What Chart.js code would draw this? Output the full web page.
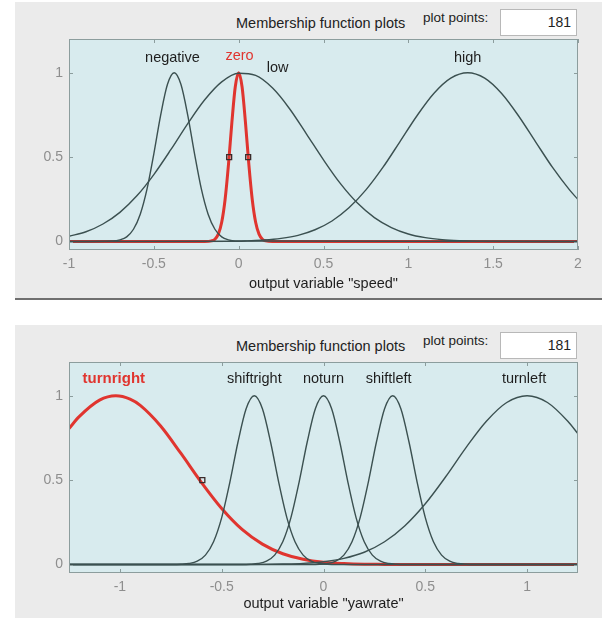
<!DOCTYPE html>
<html>
<head>
<meta charset="utf-8">
<script src="https://cdn.jsdelivr.net/npm/chart.js@4.4.1/dist/chart.umd.min.js"></script>
<style>
  body { margin: 0; background: #fff; width: 613px; height: 618px; overflow: hidden;
         font-family: "Liberation Sans", Arial, sans-serif; }
  .panel { position: absolute; left: 15px; width: 587px; background: #ebebeb; }
  #p1 { top: 2px; height: 296px; border-bottom: 2px solid #6f6f6f; }
  #p2 { top: 325px; height: 293px; }
  .panel canvas { position: absolute; left: 0; top: 0; }
  .title { position: absolute; left: 221px; top: 12px; font-size: 14.5px; line-height: 18px; color: #222; }
  .pp { position: absolute; left: 408px; top: 7px; font-size: 13.5px; line-height: 18px; color: #222; }
  .box { position: absolute; left: 485px; top: 7px; width: 77px; height: 27px; box-sizing: border-box;
         background: #fff; border: 1px solid #b8b8b8; text-align: right; padding-right: 5px;
         font-size: 14px; line-height: 25px; color: #222; }
</style>
</head>
<body>
<div class="panel" id="p1">
  <div class="title">Membership function plots</div>
  <div class="pp">plot points:</div>
  <div class="box">181</div>
  <canvas id="speedChart" width="587" height="296"></canvas>
</div>
<div class="panel" id="p2">
  <div class="title">Membership function plots</div>
  <div class="pp">plot points:</div>
  <div class="box">181</div>
  <canvas id="yawChart" width="587" height="293"></canvas>
</div>
<script>
// ============================================
// DATA - output variable "speed"
// ============================================
const speedTicksX = [-1, -0.5, 0, 0.5, 1, 1.5, 2];
const mfTicksY = [0, 0.5, 1];

const negativeX = [-1, -0.74, -0.7, -0.66, -0.62, -0.58, -0.54, -0.5, -0.46, -0.42, -0.38, -0.34, -0.3, -0.26, -0.22, -0.18, -0.14, -0.1, -0.06, -0.02, 2];
const negativeY = [0, 0.003, 0.01, 0.028, 0.073, 0.162, 0.312, 0.52, 0.748, 0.93, 1, 0.93, 0.748, 0.52, 0.312, 0.162, 0.073, 0.028, 0.01, 0.003, 0];

const zeroX = [-1, -0.2, -0.16, -0.14, -0.12, -0.1, -0.08, -0.06, -0.04, -0.02, 0, 0.02, 0.04, 0.06, 0.08, 0.1, 0.12, 0.14, 0.16, 0.2, 2];
const zeroY = [0, 0, 0.004, 0.014, 0.044, 0.114, 0.249, 0.457, 0.706, 0.917, 1, 0.917, 0.706, 0.457, 0.249, 0.114, 0.044, 0.014, 0.004, 0, 0];

const lowX = [-1, -0.9, -0.8, -0.7, -0.6, -0.5, -0.4, -0.3, -0.2, -0.1, 0, 0.1, 0.2, 0.3, 0.4, 0.5, 0.6, 0.7, 0.8, 0.9, 1, 1.1, 1.2, 1.3, 1.4, 2];
const lowY = [0.031, 0.058, 0.104, 0.173, 0.271, 0.397, 0.544, 0.699, 0.84, 0.946, 0.997, 0.984, 0.909, 0.787, 0.637, 0.484, 0.343, 0.228, 0.142, 0.083, 0.045, 0.023, 0.011, 0.005, 0.002, 0];

const highX = [-1, 0, 0.05, 0.15, 0.25, 0.35, 0.45, 0.55, 0.65, 0.75, 0.85, 0.95, 1.05, 1.15, 1.25, 1.35, 1.45, 1.55, 1.65, 1.75, 1.85, 1.95, 2];
const highY = [0, 0.002, 0.004, 0.009, 0.019, 0.037, 0.07, 0.122, 0.2, 0.306, 0.439, 0.591, 0.744, 0.877, 0.968, 1, 0.968, 0.877, 0.744, 0.591, 0.439, 0.306, 0.249];

// handles of the selected MF ("zero")
const zeroHandleX = [-0.056, 0.056];
const zeroHandleY = [0.5, 0.5];

// ============================================
// DATA - output variable "yawrate"
// ============================================
const yawTicksX = [-1, -0.5, 0, 0.5, 1];

const turnrightX = [-1.25, -1.2, -1.1, -1.02, -0.95, -0.9, -0.8, -0.7, -0.6, -0.5, -0.4, -0.3, -0.2, -0.1, 0, 0.1, 0.2, 0.3, 0.4, 1.25];
const turnrightY = [0.806, 0.876, 0.974, 1, 0.98, 0.943, 0.821, 0.658, 0.487, 0.332, 0.208, 0.121, 0.064, 0.032, 0.014, 0.006, 0.002, 0.001, 0, 0];

const shiftrightX = [-1.25, -0.74, -0.7, -0.66, -0.62, -0.58, -0.54, -0.5, -0.46, -0.42, -0.38, -0.34, -0.3, -0.26, -0.22, -0.18, -0.14, -0.1, -0.06, -0.02, 0.02, 0.06, 1.25];
const shiftrightY = [0, 0, 0.0015, 0.006, 0.02, 0.056, 0.135, 0.278, 0.487, 0.726, 0.923, 1, 0.923, 0.726, 0.487, 0.278, 0.135, 0.056, 0.02, 0.006, 0.0015, 0, 0];

const noturnX = [-1.25, -0.4, -0.36, -0.32, -0.28, -0.24, -0.2, -0.16, -0.12, -0.08, -0.04, 0, 0.04, 0.08, 0.12, 0.16, 0.2, 0.24, 0.28, 0.32, 0.36, 0.4, 1.25];
const noturnY = [0, 0, 0.0015, 0.006, 0.02, 0.056, 0.135, 0.278, 0.487, 0.726, 0.923, 1, 0.923, 0.726, 0.487, 0.278, 0.135, 0.056, 0.02, 0.006, 0.0015, 0, 0];

const shiftleftX = [-1.25, -0.06, -0.02, 0.02, 0.06, 0.1, 0.14, 0.18, 0.22, 0.26, 0.3, 0.34, 0.38, 0.42, 0.46, 0.5, 0.54, 0.58, 0.62, 0.66, 0.7, 0.74, 1.25];
const shiftleftY = [0, 0, 0.0015, 0.006, 0.02, 0.056, 0.135, 0.278, 0.487, 0.726, 0.923, 1, 0.923, 0.726, 0.487, 0.278, 0.135, 0.056, 0.02, 0.006, 0.0015, 0, 0];

const turnleftX = [-1.25, -0.4, -0.3, -0.2, -0.1, 0, 0.1, 0.2, 0.3, 0.4, 0.5, 0.6, 0.7, 0.8, 0.9, 1, 1.1, 1.2, 1.25];
const turnleftY = [0, 0, 0.001, 0.003, 0.007, 0.017, 0.037, 0.073, 0.135, 0.23, 0.36, 0.52, 0.693, 0.849, 0.96, 1, 0.96, 0.849, 0.775];

// handle of the selected MF ("turnright")
const turnrightHandleX = [-0.595];
const turnrightHandleY = [0.5];

// ============================================
// STYLE
// ============================================
const FONT = '"Liberation Sans", Arial, sans-serif';
const DARK = '#3b5050';
const RED = '#e0352f';

function pts(xs, ys) {
    return xs.map((x, i) => ({ x: x, y: ys[i] }));
}

function mfLine(xs, ys, selected) {
    return {
        data: pts(xs, ys),
        borderColor: selected ? RED : DARK,
        borderWidth: selected ? 3 : 1.4,
        pointRadius: 0,
        cubicInterpolationMode: 'monotone',
        order: selected ? 10 : 1
    };
}

function handleSet(xs, ys) {
    return {
        data: pts(xs, ys),
        showLine: false,
        pointStyle: 'rect',
        pointRadius: 3.5,
        pointBorderWidth: 1.3,
        pointBorderColor: '#3a2a2a',
        pointBackgroundColor: 'rgba(0,0,0,0)',
        order: 0
    };
}

// light blue plot box, inside ticks and MF names
const mfFrame = {
    id: 'mfFrame',
    beforeDraw(chart) {
        const { ctx, chartArea: a } = chart;
        ctx.save();
        ctx.fillStyle = '#d8ebee';
        ctx.fillRect(a.left, a.top, a.right - a.left, a.bottom - a.top);
        ctx.restore();
    },
    afterDraw(chart, args, opts) {
        const { ctx, chartArea: a, scales } = chart;
        const x = scales.x, y = scales.y;
        ctx.save();
        ctx.strokeStyle = '#8c9d9d';
        ctx.lineWidth = 1;
        ctx.strokeRect(a.left + 0.5, a.top + 0.5, a.right - a.left - 1, a.bottom - a.top - 1);
        ctx.beginPath();
        x.ticks.forEach(t => {
            const px = Math.round(x.getPixelForValue(t.value)) + 0.5;
            ctx.moveTo(px, a.bottom); ctx.lineTo(px, a.bottom - 4);
            ctx.moveTo(px, a.top); ctx.lineTo(px, a.top + 4);
        });
        y.ticks.forEach(t => {
            const py = Math.round(y.getPixelForValue(t.value)) + 0.5;
            ctx.moveTo(a.left, py); ctx.lineTo(a.left + 4, py);
            ctx.moveTo(a.right, py); ctx.lineTo(a.right - 4, py);
        });
        ctx.stroke();

        ctx.textAlign = 'center';
        ctx.textBaseline = 'middle';
        (opts.labels || []).forEach(l => {
            ctx.fillStyle = l.red ? RED : '#1e1e1e';
            ctx.font = (l.bold ? 'bold 15px ' : '14.5px ') + FONT;
            ctx.fillText(l.text, x.getPixelForValue(l.x), y.getPixelForValue(l.y));
        });
        ctx.restore();
    }
};

function makeChart(canvasId, datasets, xMin, xMax, xTicks, xTitle, labels) {
    const ctx = document.getElementById(canvasId).getContext('2d');
    return new Chart(ctx, {
        type: 'line',
        data: { datasets: datasets },
        options: {
            responsive: false,
            animation: false,
            layout: { padding: { left: 0, top: 37, right: 24, bottom: 0 } },
            plugins: {
                legend: { display: false },
                tooltip: { enabled: false },
                mfFrame: { labels: labels }
            },
            scales: {
                x: {
                    type: 'linear',
                    min: xMin,
                    max: xMax,
                    afterBuildTicks: s => { s.ticks = xTicks.map(v => ({ value: v })); },
                    afterFit: s => { s.height = canvasId === 'speedChart' ? 48 : 45; },
                    grid: { display: false, drawTicks: false, tickLength: 0 },
                    border: { display: false },
                    ticks: {
                        padding: 6,
                        color: '#8e8e8e',
                        font: { family: FONT, size: 14 },
                        maxRotation: 0,
                        callback: v => String(v)
                    },
                    title: {
                        display: true,
                        text: xTitle,
                        color: '#1e1e1e',
                        font: { family: FONT, size: 14.5 },
                        padding: { top: 0, bottom: 5 }
                    }
                },
                y: {
                    type: 'linear',
                    min: -0.05,
                    max: 1.2,
                    afterBuildTicks: s => { s.ticks = mfTicksY.map(v => ({ value: v })); },
                    afterFit: s => { s.width = 54; },
                    grid: { display: false, drawTicks: false, tickLength: 0 },
                    border: { display: false },
                    ticks: {
                        padding: 6,
                        color: '#8e8e8e',
                        font: { family: FONT, size: 14 },
                        callback: v => String(v)
                    }
                }
            }
        },
        plugins: [mfFrame]
    });
}

makeChart('speedChart', [
    handleSet(zeroHandleX, zeroHandleY),
    mfLine(negativeX, negativeY, false),
    mfLine(lowX, lowY, false),
    mfLine(highX, highY, false),
    mfLine(zeroX, zeroY, true)
], -1, 2, speedTicksX, 'output variable "speed"', [
    { text: 'negative', x: -0.39, y: 1.09 },
    { text: 'zero', x: 0.005, y: 1.1, red: true },
    { text: 'low', x: 0.23, y: 1.03 },
    { text: 'high', x: 1.35, y: 1.09 }
]);

makeChart('yawChart', [
    handleSet(turnrightHandleX, turnrightHandleY),
    mfLine(shiftrightX, shiftrightY, false),
    mfLine(noturnX, noturnY, false),
    mfLine(shiftleftX, shiftleftY, false),
    mfLine(turnleftX, turnleftY, false),
    mfLine(turnrightX, turnrightY, true)
], -1.25, 1.25, yawTicksX, 'output variable "yawrate"', [
    { text: 'turnright', x: -1.03, y: 1.1, red: true, bold: true },
    { text: 'shiftright', x: -0.34, y: 1.1 },
    { text: 'noturn', x: 0, y: 1.1 },
    { text: 'shiftleft', x: 0.32, y: 1.1 },
    { text: 'turnleft', x: 0.985, y: 1.1 }
]);
</script>
</body>
</html>
